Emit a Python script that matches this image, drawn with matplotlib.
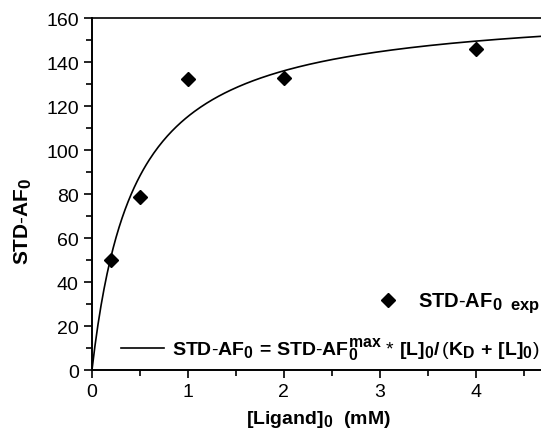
import numpy as np
import matplotlib
matplotlib.use("Agg")
from matplotlib import pyplot as plt
import matplotlib._mathtext as mt

# bigger sub/superscripts, like the Origin original
mt.SHRINK_FACTOR = 0.82

# fonts: Arial-like
plt.rcParams['font.family'] = ['Liberation Sans', 'DejaVu Sans']
plt.rcParams['mathtext.fontset'] = 'custom'
plt.rcParams['mathtext.rm'] = 'Liberation Sans'
plt.rcParams['mathtext.bf'] = 'Liberation Sans:bold'
plt.rcParams['mathtext.it'] = 'Liberation Sans:italic'

# experimental points
ligand_mM = [0.2, 0.5, 1.0, 2.0, 4.0]
std_af0 = [50.0, 78.5, 132.5, 133.0, 146.0]

# fitted parameters of the binding curve
STD_AF0_MAX = 166.0
KD = 0.44

x_fit = np.linspace(0, 4.7, 300)
y_fit = STD_AF0_MAX * x_fit / (KD + x_fit)

fig = plt.figure(figsize=(5.41, 4.35), dpi=100)
ax = fig.add_axes([0.170, 0.147, 0.830, 0.809])

fit_line, = ax.plot(x_fit, y_fit, color='black', lw=1.2)
pts, = ax.plot(ligand_mM, std_af0, 'D', color='black', ms=7, ls='none')

ax.set_xlim(0, 4.68)
ax.set_ylim(0, 160)
ax.set_xticks([0, 1, 2, 3, 4])
ax.set_xticks(np.arange(0.5, 4.6, 1.0), minor=True)
ax.set_yticks(np.arange(0, 161, 20))
ax.set_yticks(np.arange(10, 160, 20), minor=True)

ax.tick_params(which='major', direction='out', length=6, width=1.2, labelsize=14)
ax.tick_params(which='minor', direction='out', length=4, width=1.2)
ax.spines['right'].set_visible(False)
ax.spines['left'].set_linewidth(1.4)
ax.spines['bottom'].set_linewidth(1.4)
ax.spines['top'].set_linewidth(1.2)

ax.set_xlabel(r'$\mathbf{[Ligand]_0\ \ (mM)}$', fontsize=14)
ax.xaxis.set_label_coords(0.505, -0.108)
ax.set_ylabel(r'$\mathbf{STD\text{-}AF_0}$', fontsize=15)
ax.yaxis.set_label_coords(-0.13, 0.425)

# two legend entries, each right aligned like the original
leg1 = ax.legend([pts], [r'$\mathbf{STD\text{-}AF_{0\ \ exp}}$'],
                 loc='center right', bbox_to_anchor=(0.998, 0.19),
                 frameon=False, fontsize=14.5, handlelength=2.2,
                 handletextpad=0.4, borderpad=0, borderaxespad=0)
ax.add_artist(leg1)
ax.legend([fit_line],
          [r'$\mathbf{STD\text{-}AF_0\,=\,STD\text{-}AF_0^{max}}$ * '
           r'$\mathbf{[L]_0/\,\left(K_D\,+\,[L]_0\right)}$'],
          loc='center right', bbox_to_anchor=(0.996, 0.06),
          frameon=False, fontsize=14, handlelength=2.2,
          handletextpad=0.4, borderpad=0, borderaxespad=0)

plt.savefig('out.png', dpi=100)
